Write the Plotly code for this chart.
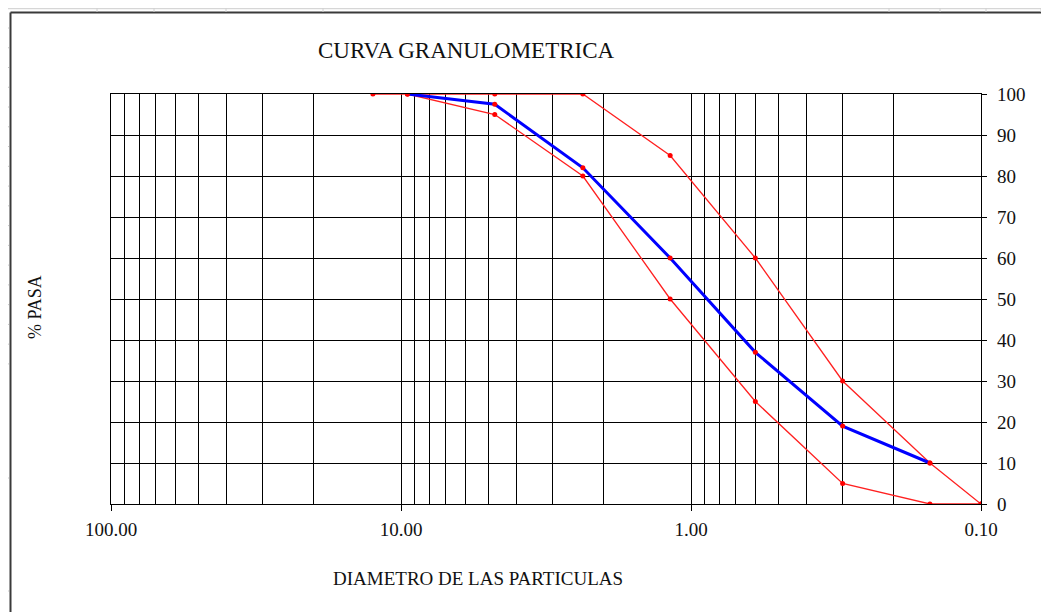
import plotly.graph_objects as go

# The page body has an 8px margin, so the figure is sized and offset to compensate.
OFF = 8
W, H = 1049 - OFF, 612 - OFF

# Data (sieve sizes in mm, % passing)
sizes_blue = [9.5, 4.75, 2.36, 1.18, 0.6, 0.3, 0.15]
pass_blue = [100, 97.5, 82, 60, 37, 19, 10]

sizes_upper = [12.5, 9.5, 4.75, 2.36, 1.18, 0.6, 0.3, 0.15, 0.1]
pass_upper = [100, 100, 100, 100, 85, 60, 30, 10, 0]

sizes_lower = [9.5, 4.75, 2.36, 1.18, 0.6, 0.3, 0.15, 0.1]
pass_lower = [100, 95, 80, 50, 25, 5, 0, 0]

x_major = [100, 10, 1, 0.1]
x_major_text = ["100.00", "10.00", "1.00", "0.10"]
x_minor = [m * d for d in [10, 1, 0.1] for m in range(2, 10)]
y_ticks = list(range(0, 101, 10))

SERIF = "Liberation Serif, Times New Roman, serif"

fig = go.Figure()
fig.add_trace(go.Scatter(x=sizes_upper, y=pass_upper, mode="lines+markers",
                         line=dict(color="#ff2020", width=1.3),
                         marker=dict(color="#ff0000", size=5), hoverinfo="skip"))
fig.add_trace(go.Scatter(x=sizes_lower, y=pass_lower, mode="lines+markers",
                         line=dict(color="#ff2020", width=1.3),
                         marker=dict(color="#ff0000", size=5), hoverinfo="skip"))
fig.add_trace(go.Scatter(x=sizes_blue, y=pass_blue, mode="lines+markers",
                         line=dict(color="#0000ff", width=3),
                         marker=dict(color="#ff0000", size=5), hoverinfo="skip"))

def px(x):
    return (x - OFF) / W

def py(y):
    return 1 - (y - OFF) / H

shapes = []
# outer frame
shapes.append(dict(type="line", xref="paper", yref="paper", x0=px(10.5), x1=px(1060),
                   y0=py(12.5), y1=py(12.5), line=dict(color="#3a3a3a", width=2)))
shapes.append(dict(type="line", xref="paper", yref="paper", x0=px(10.5), x1=px(10.5),
                   y0=py(12.5), y1=py(620), line=dict(color="#3a3a3a", width=2)))
# spreadsheet header decoration
shapes.append(dict(type="line", xref="paper", yref="paper", x0=px(0), x1=px(1060),
                   y0=py(8.5), y1=py(8.5), line=dict(color="#d6d6d6", width=1.5)))
for xv in [97, 154, 226, 323, 889, 940, 986, 1041]:
    shapes.append(dict(type="line", xref="paper", yref="paper", x0=px(xv), x1=px(xv),
                       y0=py(8), y1=py(12), line=dict(color="#d0d0d0", width=1)))
left_rows = [28 + 19.76 * k for k in range(18)] + [478, 591]
for yv in left_rows:
    shapes.append(dict(type="line", xref="paper", yref="paper", x0=px(3), x1=px(9),
                       y0=py(yv), y1=py(yv), line=dict(color="#c8c8c8", width=1)))

annotations = [
    dict(text="CURVA GRANULOMETRICA", xref="paper", yref="paper", x=px(466), y=py(50),
         showarrow=False, font=dict(family=SERIF, size=23, color="#111111"),
         xanchor="center", yanchor="middle"),
    dict(text="DIAMETRO DE LAS PARTICULAS", xref="paper", yref="paper", x=px(478), y=py(578),
         showarrow=False, font=dict(family=SERIF, size=19, color="#111111"),
         xanchor="center", yanchor="middle"),
    dict(text="% PASA", xref="paper", yref="paper", x=px(35), y=py(307),
         showarrow=False, textangle=-90, font=dict(family=SERIF, size=18, color="#111111"),
         xanchor="center", yanchor="middle"),
]

fig.update_layout(
    width=W, height=H,
    margin=dict(l=0, r=0, t=0, b=0),
    paper_bgcolor="white", plot_bgcolor="white",
    showlegend=False,
    shapes=shapes,
    annotations=annotations,
    xaxis=dict(type="log", range=[2, -1], domain=[px(111), px(981)],
               tickmode="array", tickvals=x_major, ticktext=x_major_text,
               ticks="outside", ticklen=6, tickcolor="black", tickwidth=1.2,
               showgrid=True, gridcolor="black", gridwidth=1.2,
               minor=dict(tickmode="array", tickvals=x_minor, showgrid=True,
                          gridcolor="black", gridwidth=1.2, ticks=""),
               showline=True, linecolor="black", linewidth=1.2, mirror=True,
               zeroline=False, automargin=False, ticklabelstandoff=2,
               tickfont=dict(family=SERIF, size=19, color="#111111")),
    yaxis=dict(range=[0, 100], domain=[py(504), py(94)], side="right",
               tickmode="array", tickvals=y_ticks,
               ticks="outside", ticklen=5, tickcolor="black", tickwidth=1.2,
               showgrid=True, gridcolor="black", gridwidth=1.2,
               showline=True, linecolor="black", linewidth=1.2, mirror=True,
               zeroline=False, automargin=False, ticklabelstandoff=6,
               tickfont=dict(family=SERIF, size=19, color="#111111")),
)

fig.write_html("out.html")
